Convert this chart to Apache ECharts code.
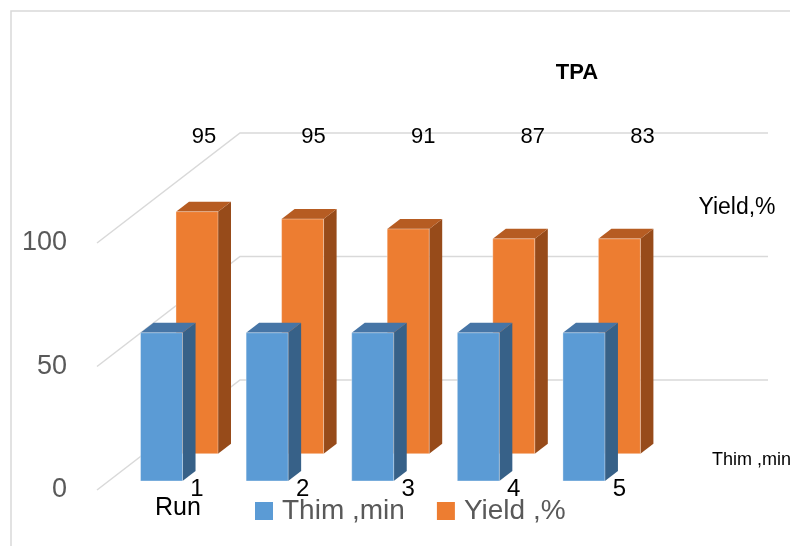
<!DOCTYPE html>
<html>
<head>
<meta charset="utf-8">
<script src="https://cdn.jsdelivr.net/npm/echarts@6/dist/echarts.min.js"></script>
<style>
  html, body { margin: 0; padding: 0; background: #fff; }
  #main { width: 790px; height: 546px; }
</style>
</head>
<body>
<div id="main"></div>
<script>
// data
var categories = ['1', '2', '3', '4', '5'];
var thimValues = [60, 60, 60, 60, 60];
var yieldValues = [98, 95, 91, 87, 87];
var yieldLabels = ['95', '95', '91', '87', '83'];
var valueTicks = [0, 50, 100];
var seriesNames = ['Thim ,min', 'Yield ,%'];

// fake 3d depth (pixels)
var DX = 143, DY = -110;
var FONT = "'Liberation Sans', Arial, sans-serif";

function toPairs(arr) {
    return arr.map(function(v, i) { return [i, v]; });
}

function makeBar(depth, thick, front, side, top, withLabels) {
    return function(params, api) {
        var i = api.value(0);
        var base = api.coord([i, 0]);
        var peak = api.coord([i, api.value(1)]);
        var w = 42;
        var cx = base[0] + depth * DX;
        var x0 = cx - w / 2, x1 = cx + w / 2;
        var yb = base[1] + depth * DY, yt = peak[1] + depth * DY;
        var tx = thick * DX, ty = thick * DY;
        var kids = [
            { type: 'polygon', shape: { points: [[x1, yb], [x1, yt], [x1 + tx, yt + ty], [x1 + tx, yb + ty]] },
              style: { fill: side } },
            { type: 'polygon', shape: { points: [[x0, yt], [x1, yt], [x1 + tx, yt + ty], [x0 + tx, yt + ty]] },
              style: { fill: top } },
            { type: 'rect', shape: { x: x0, y: yt, width: w, height: yb - yt },
              style: { fill: front, stroke: 'rgba(255,255,255,0.35)', lineWidth: 1 } }
        ];
        if (withLabels) {
            var lblTop = api.coord([i, 100]);
            kids.push({ type: 'text', style: { text: yieldLabels[i], x: cx + 7 + 4 * i, y: lblTop[1] + DY + 4,
                align: 'center', verticalAlign: 'middle', fill: '#000', font: '22px ' + FONT } });
            kids.push({ type: 'text', style: { text: categories[i], x: cx, y: base[1] - 1,
                align: 'center', verticalAlign: 'middle', fill: '#000', font: '24px ' + FONT } });
        }
        return { type: 'group', children: kids };
    };
}

var option = {
    backgroundColor: '#fff',
    animation: false,
    grid: { left: 97, width: 528, top: 243, height: 247 },
    legend: {
        data: seriesNames,
        left: 250,
        top: 492,
        icon: 'rect',
        itemWidth: 18,
        itemHeight: 18,
        itemGap: 32,
        textStyle: { fontSize: 28, color: '#595959', fontFamily: FONT, padding: [0, 0, 0, 4] }
    },
    xAxis: {
        type: 'category',
        data: categories,
        axisLine: { show: false },
        axisTick: { show: false },
        axisLabel: { show: false }
    },
    yAxis: {
        type: 'value',
        min: 0,
        max: 100,
        interval: 50,
        splitLine: { show: false },
        axisLabel: { margin: 30, fontSize: 27, color: '#595959', fontFamily: FONT }
    },
    graphic: [
        { type: 'rect', shape: { x: 11, y: 11, width: 800, height: 560 },
          style: { fill: 'none', stroke: '#d9d9d9', lineWidth: 1.5 }, z: -1 },
        { type: 'text', style: { text: 'TPA', x: 577, y: 73, align: 'center', verticalAlign: 'middle',
          font: 'bold 22px ' + FONT, fill: '#000' } },
        { type: 'text', style: { text: 'Run', x: 178, y: 508, align: 'center', verticalAlign: 'middle',
          font: '25px ' + FONT, fill: '#000' } },
        { type: 'text', style: { text: 'Yield,%', x: 737, y: 208, align: 'center', verticalAlign: 'middle',
          font: '23px ' + FONT, fill: '#000' } },
        { type: 'text', style: { text: 'Thim ,min', x: 712, y: 460, align: 'left', verticalAlign: 'middle',
          font: '18px ' + FONT, fill: '#000' } }
    ],
    series: [
        {
            name: 'walls',
            type: 'custom',
            silent: true,
            z: 1,
            data: toPairs(valueTicks).map(function(p) { return [0, p[1]]; }),
            renderItem: function(params, api) {
                var cs = params.coordSys;
                var y = api.coord([0, api.value(1)])[1];
                var l = cs.x, r = cs.x + cs.width;
                return {
                    type: 'polyline',
                    shape: { points: [[l, y], [l + DX, y + DY], [r + DX, y + DY]] },
                    style: { stroke: '#d9d9d9', lineWidth: 1.5, fill: null }
                };
            }
        },
        {
            name: seriesNames[1],
            type: 'custom',
            z: 2,
            itemStyle: { color: '#ed7d31' },
            data: toPairs(yieldValues),
            renderItem: makeBar(0.33, 0.091, '#ed7d31', '#974b1a', '#b65c22', true)
        },
        {
            name: seriesNames[0],
            type: 'custom',
            z: 3,
            itemStyle: { color: '#5b9bd5' },
            data: toPairs(thimValues),
            renderItem: makeBar(0.082, 0.091, '#5b9bd5', '#376188', '#4675a6', false)
        }
    ]
};

var myChart = echarts.init(document.getElementById('main'));
myChart.setOption(option);
</script>
</body>
</html>
